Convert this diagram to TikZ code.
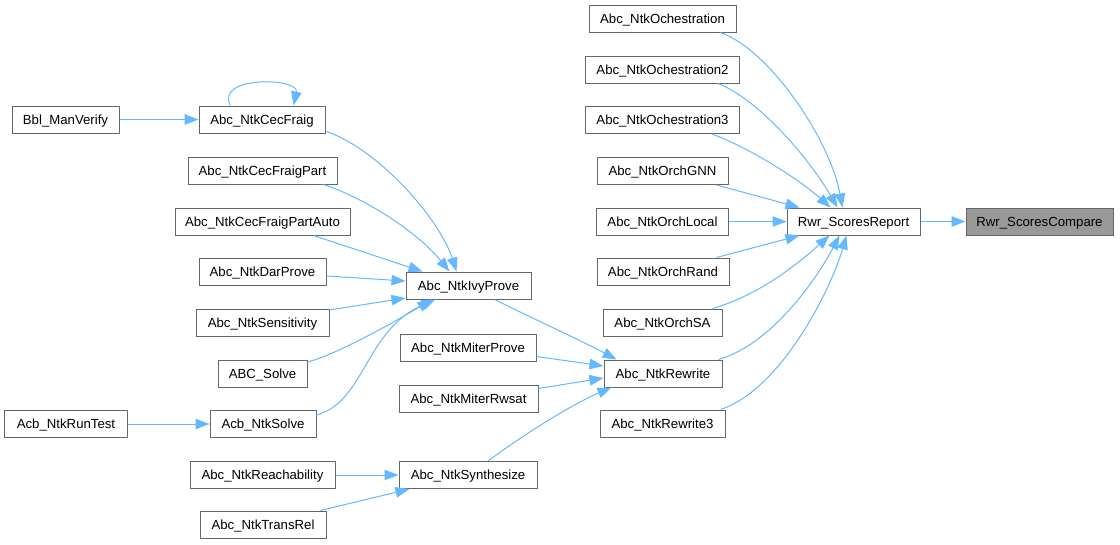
\documentclass[tikz,border=0pt]{standalone}
\usepackage{fontspec}
\setmainfont{Liberation Sans}
\usetikzlibrary{arrows.meta,calc}
\definecolor{edgec}{HTML}{63B8FF}
\definecolor{boxc}{HTML}{666666}
\definecolor{hlc}{HTML}{999999}
\begin{document}
\begin{tikzpicture}[x=1pt,y=-1pt,
  box/.style={draw=boxc,line width=1pt,fill=white,rectangle,inner sep=0pt,
    minimum height=27pt,text height=11pt,text depth=1.6pt,
    font=\fontsize{13.2}{15}\selectfont,text=black},
  hl/.style={box,fill=hlc},
  edge/.style={draw=edgec,line width=1pt,-{Triangle[length=14pt,width=10.5pt]}}]
\useasboundingbox (0,0) rectangle (1120,544);
% left column
\node[box,minimum width=107pt] (bbl) at (65.5,119.5) {Bbl\_ManVerify};
\node[box,minimum width=123pt] (runt) at (66,424) {Acb\_NtkRunTest};
\node[box,minimum width=126pt] (cecf) at (262,119.5) {Abc\_NtkCecFraig};
\node[box,minimum width=149pt] (cecfp) at (262.5,170.5) {Abc\_NtkCecFraigPart};
\node[box,minimum width=175pt] (cecfpa) at (262.5,221.5) {Abc\_NtkCecFraigPartAuto};
\node[box,minimum width=127pt] (dar) at (262.5,272) {Abc\_NtkDarProve};
\node[box,minimum width=133pt] (sens) at (262.5,322.5) {Abc\_NtkSensitivity};
\node[box,minimum width=89pt] (abcs) at (262.5,373.5) {ABC\_Solve};
\node[box,minimum width=106pt] (acbs) at (263,424) {Acb\_NtkSolve};
\node[box,minimum width=145pt] (reach) at (262.5,475) {Abc\_NtkReachability};
\node[box,minimum width=126pt] (trans) at (263,524.5) {Abc\_NtkTransRel};
% middle column
\node[box,minimum width=125pt] (ivy) at (468.5,285.5) {Abc\_NtkIvyProve};
\node[box,minimum width=136pt] (mprove) at (468,347.5) {Abc\_NtkMiterProve};
\node[box,minimum width=139pt] (mrw) at (468.5,398.5) {Abc\_NtkMiterRwsat};
\node[box,minimum width=138pt] (synth) at (468,475) {Abc\_NtkSynthesize};
% third column
\node[box,minimum width=147pt] (och1) at (662.5,18.5) {Abc\_NtkOchestration};
\node[box,minimum width=154pt] (och2) at (662.5,69.5) {Abc\_NtkOchestration2};
\node[box,minimum width=154pt] (och3) at (662.5,120) {Abc\_NtkOchestration3};
\node[box,minimum width=131pt] (gnn) at (662.5,171) {Abc\_NtkOrchGNN};
\node[box,minimum width=132pt] (local) at (662.5,221.5) {Abc\_NtkOrchLocal};
\node[box,minimum width=132pt] (rand) at (663,271.5) {Abc\_NtkOrchRand};
\node[box,minimum width=119pt] (sa) at (662.5,322.5) {Abc\_NtkOrchSA};
\node[box,minimum width=118pt] (rew) at (663,373.5) {Abc\_NtkRewrite};
\node[box,minimum width=125pt] (rew3) at (662.5,423.5) {Abc\_NtkRewrite3};
% right
\node[box,minimum width=133pt] (rep) at (853.5,221.5) {Rwr\_ScoresReport};
\node[hl,minimum width=147pt] (cmp) at (1039.5,221.5) {Rwr\_ScoresCompare};
% edges left
\draw[edge] (bbl.east) -- (cecf.west);
\draw[edge] ($(cecf.north west)+(32,0)$) .. controls +(-16,-30) and +(6,-28) .. ($(cecf.north west)+(95,0)$);
\draw[edge] ($(cecf.south east)+(1,-2)$) .. controls (380,150) and (440,220) .. ($(ivy.north west)+(51,0)$);
\draw[edge] ($(cecfp.south east)+(-14,0)$) .. controls (370,200) and (420,235) .. ($(ivy.north west)+(44,0)$);
\draw[edge] ($(cecfpa.south east)+(-37,0)$) -- ($(ivy.north west)+(17,0)$);
\draw[edge] ($(dar.east)+(0,4)$) -- ($(ivy.west)+(0,-4.5)$);
\draw[edge] ($(sens.north east)+(0,1.5)$) -- ($(ivy.south west)+(0,-1.5)$);
\draw[edge] ($(abcs.north east)+(0,2.5)$) .. controls (335,355) and (395,322) .. ($(ivy.south west)+(26,0)$);
\draw[edge] ($(acbs.east)+(0,-9)$) .. controls (365,402) and (365,330) .. ($(ivy.south west)+(30,0)$);
\draw[edge] (runt.east) -- (acbs.west);
% edges middle
\draw[edge] ($(ivy.south)+(26,0)$) .. controls (540,322) and (580,340) .. ($(rew.north west)+(13,0)$);
\draw[edge] ($(mprove.east)+(0,9)$) -- ($(rew.west)+(0,-7.5)$);
\draw[edge] ($(mrw.north east)+(0,4)$) -- ($(rew.west)+(0,4.5)$);
\draw[edge] ($(synth.north)+(20,0)$) .. controls (530,430) and (575,403) .. ($(rew.south west)+(8,0)$);
\draw[edge] (reach.east) -- (synth.west);
\draw[edge] ($(trans.north east)+(-6,0)$) -- ($(synth.south west)+(11,0)$);
% edges right
\draw[edge] ($(och1.south east)+(-16,0)$) .. controls (770,50) and (830,140) .. ($(rep.north west)+(56,0)$);
\draw[edge] ($(och2.south east)+(-22,0)$) .. controls (760,100) and (810,160) .. ($(rep.north west)+(51,0)$);
\draw[edge] ($(och3.south east)+(-28,0)$) .. controls (750,148) and (800,180) .. ($(rep.north west)+(44,0)$);
\draw[edge] ($(gnn.south east)+(-12,0)$) -- ($(rep.north west)+(13,0)$);
\draw[edge] (local.east) -- (rep.west);
\draw[edge] ($(rand.north east)+(-13,0)$) -- ($(rep.south west)+(13,0)$);
\draw[edge] ($(sa.north east)+(-10,0)$) .. controls (760,295) and (800,262) .. ($(rep.south west)+(43,0)$);
\draw[edge] ($(rew.north east)+(-4,0)$) .. controls (770,345) and (815,282) .. ($(rep.south west)+(53,0)$);
\draw[edge] ($(rew3.north east)+(-5,0)$) .. controls (780,390) and (830,292) .. ($(rep.south west)+(60,0)$);
\draw[edge] (rep.east) -- (cmp.west);
\end{tikzpicture}
\end{document}
